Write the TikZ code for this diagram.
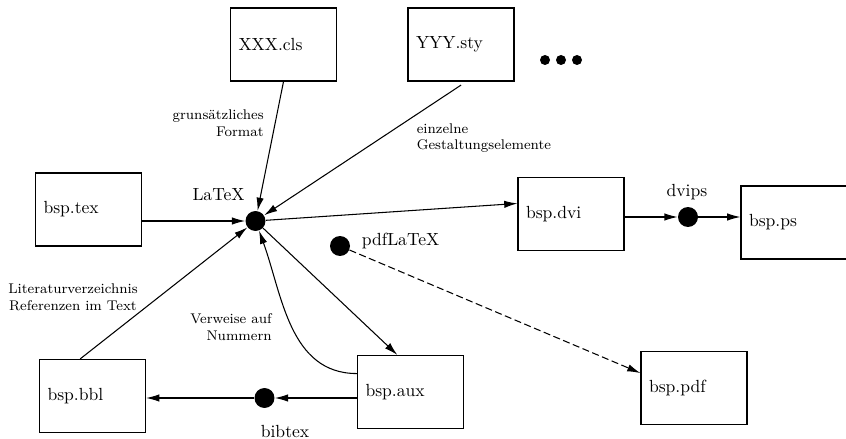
\documentclass[tikz,border=0pt]{standalone}
\usepackage{tikz}
\usetikzlibrary{arrows.meta}

\begin{document}
\begin{tikzpicture}[x=0.02cm, y=-0.02cm,
    datei/.style={draw, line width=0.7pt, text width=1.8cm, inner xsep=0.16cm, minimum height=1.46cm, align=left},
    punkt/.style={circle, fill=black, inner sep=0pt, minimum size=0.4cm},
    pfeil/.style={-{Latex[length=7.5pt,width=4.2pt]}, line width=0.6pt},
    notiz/.style={font=\footnotesize, inner sep=0pt}]
    \useasboundingbox (0,0) rectangle (846,439);

    % Dateien
    \node[datei] (cls) at (283.5,44.5) {XXX.cls};
    \node[datei] (sty) at (461,44.5) {YYY.sty};
    \node[datei] (tex) at (88.5,209.5) {bsp.tex};
    \node[datei] (dvi) at (571,214) {bsp.dvi};
    \node[datei] (ps) at (794,222.5) {bsp.ps};
    \node[datei] (aux) at (410.5,392) {bsp.aux};
    \node[datei] (pdf) at (694,388) {bsp.pdf};
    \node[datei] (bbl) at (92.5,396) {bsp.bbl};
    \foreach \x in {545,561,577}
        \fill (\x,60) circle (0.1cm);

    % Programme
    \node[punkt] (latex) at (255.5,221) {};
    \node[punkt] (dvips) at (688,217) {};
    \node[punkt] (pdflatex) at (340,246) {};
    \node[punkt] (bibtex) at (264.5,398) {};
    \node[inner sep=0pt] (latexlbl) at (218.5,195) {LaTeX};
    \node[inner sep=0pt] (dvipslbl) at (687,192) {dvips};
    \node[inner sep=0pt, anchor=west] (pdflatexlbl) at (361.5,241) {pdfLaTeX};
    \node[inner sep=0pt] (bibtexlbl) at (285,431) {bibtex};

    % Beschriftungen
    \node[notiz, align=right, anchor=east] (formatlbl) at (264,123.5) {grunsätzliches\\Format};
    \node[notiz, align=left, anchor=west] (elemlbl) at (416.5,138) {einzelne\\Gestaltungselemente};
    \node[notiz, align=center] (litlbl) at (73,297.5) {Literaturverzeichnis\\Referenzen im Text};
    \node[notiz, align=right, anchor=east] (numlbl) at (272,327) {Verweise auf\\Nummern};

    % Pfeile
    \draw[pfeil] (cls.south) -- (latex);
    \draw[pfeil] ([yshift=-2pt]sty.south) -- (latex);
    \draw[pfeil] (tex.east |- latex) -- (latex);
    \draw[pfeil] (latex) -- ([yshift=6pt]dvi.west);
    \draw[pfeil] (latex) -- ([xshift=-7.5pt]aux.north);
    \draw[pfeil] ([yshift=10.5pt]aux.west) to[out=180, in=-70] (latex);
    \draw[pfeil] (aux.west |- bibtex) -- (bibtex);
    \draw[pfeil] (bibtex) -- (bbl.east |- bibtex);
    \draw[pfeil] ([xshift=-7pt]bbl.north) -- (latex);
    \draw[pfeil] (dvi.east |- dvips) -- (dvips);
    \draw[pfeil] (dvips) -- (ps.west |- dvips);
    \draw[pfeil, dash pattern=on 4pt off 2pt] (pdflatex) -- ([yshift=8.5pt]pdf.west);
\end{tikzpicture}
\end{document}
